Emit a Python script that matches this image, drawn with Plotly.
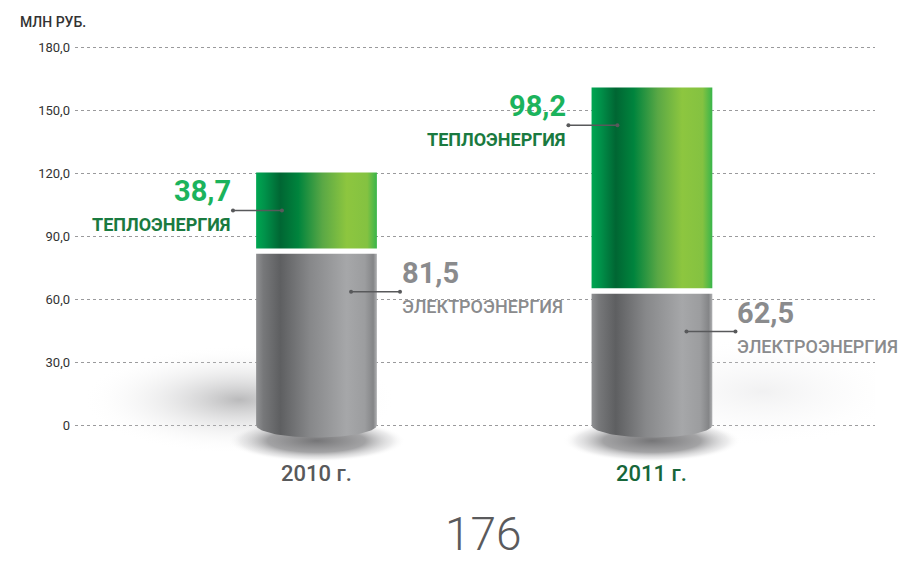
import numpy as np
import plotly.graph_objects as go

# Data: million roubles by year
years = ["2010 г.", "2011 г."]
electricity = [81.5, 62.5]   # ЭЛЕКТРОЭНЕРГИЯ
heat = [38.7, 98.2]          # ТЕПЛОЭНЕРГИЯ
y_ticks = [0, 30, 60, 90, 120, 150, 180]
y_tick_labels = ["0", "30,0", "60,0", "90,0", "120,0", "150,0", "180,0"]
page_number = "176"

# Styling constants
X_RANGE = [-0.72, 1.665]
Y_RANGE = [-21.43, 188.1]
HALF_W = 0.18          # half width of a cylinder (x units)
GAP = 2.6              # white gap between the two stacked parts (y units)
BASE_DEPTH = 6.0       # depth of the rounded cylinder bottom (y units)
LEAD_OUT = 0.069       # leader length outside the cylinder
LEAD_IN = 0.077        # leader length inside the cylinder
LEAD_DROP = 18         # leader position below the segment top

GREEN_NUM = "#1bb35c"
GREEN_TXT = "#1a7a40"
GRAY_NUM = "#8a8b8d"
GRAY_TXT = "#8a8b8d"
YEAR_COLORS = ["#58595b", "#17663a"]
FONT = "Roboto"

GRAY_SCALE = [
    [0.0, "#8f9092"], [0.06, "#77787a"], [0.2, "#5e5f61"], [0.45, "#87888a"],
    [0.75, "#a6a7a9"], [0.9, "#9c9d9f"], [0.97, "#848587"], [1.0, "#b0b1b3"],
]
GREEN_SCALE = [
    [0.0, "#00a651"], [0.07, "#00924a"], [0.2, "#006633"], [0.35, "#00843d"],
    [0.55, "#5aa845"], [0.75, "#8dc63f"], [0.92, "#84c241"], [1.0, "#39b54a"],
]


def fmt(v):
    return f"{v:.1f}".replace(".", ",")


fig = go.Figure()


def soft_blob(cx, cy, rx, ry, colorscale):
    fig.add_trace(go.Scatter(
        x=[cx - rx, cx + rx, cx + rx, cx - rx, cx - rx],
        y=[cy - ry, cy - ry, cy + ry, cy + ry, cy - ry],
        mode="lines", line=dict(width=0), fill="toself",
        fillgradient=dict(type="radial", colorscale=colorscale),
        hoverinfo="skip", showlegend=False,
    ))


def segment(xc, y0, y1, colorscale, rounded):
    xs = [xc - HALF_W, xc + HALF_W]
    ys = [y1, y1]
    if rounded:
        t = np.linspace(0, np.pi, 60)
        xs += list(xc + HALF_W * np.cos(t))
        ys += list(y0 - BASE_DEPTH * np.sin(t))
    else:
        xs += [xc + HALF_W, xc - HALF_W]
        ys += [y0, y0]
    xs.append(xs[0])
    ys.append(ys[0])
    fig.add_trace(go.Scatter(
        x=xs, y=ys, mode="lines", line=dict(width=0), fill="toself",
        fillgradient=dict(type="horizontal", colorscale=colorscale),
        hoverinfo="skip", showlegend=False,
    ))


def leader(x0, x1, y):
    fig.add_trace(go.Scatter(
        x=[x0, x1], y=[y, y], mode="lines+markers",
        line=dict(color="#58595b", width=1.5),
        marker=dict(size=4, color="#58595b"),
        hoverinfo="skip", showlegend=False,
    ))


# floor haze and shadows
haze = [
    dict(dx=-0.23, cy=12, rx=0.47, ry=26,
         cs=[[0, "rgba(140,140,142,0.6)"], [0.5, "rgba(195,195,197,0.28)"], [1, "rgba(255,255,255,0)"]]),
    dict(dx=0.33, cy=16, rx=0.42, ry=26,
         cs=[[0, "rgba(215,215,217,0.35)"], [0.6, "rgba(235,235,237,0.15)"], [1, "rgba(255,255,255,0)"]]),
]
for i, h in enumerate(haze):
    soft_blob(i + h["dx"], h["cy"], h["rx"], h["ry"], h["cs"])

for i in range(len(years)):
    soft_blob(i, -7.5, 0.265, 10,
              [[0, "rgba(110,110,112,0.95)"], [0.55, "rgba(140,140,142,0.8)"],
               [0.85, "rgba(200,200,202,0.35)"], [1, "rgba(255,255,255,0)"]])

# cylinders
for i in range(len(years)):
    e, h = electricity[i], heat[i]
    segment(i, 0, e, GRAY_SCALE, True)
    segment(i, e + GAP, e + h, GREEN_SCALE, False)

annotations = []
for i in range(len(years)):
    e, h = electricity[i], heat[i]
    left, right = i - HALF_W, i + HALF_W

    # heat label (left side)
    yh = e + h - LEAD_DROP
    xh = left - LEAD_OUT
    leader(xh, left + LEAD_IN, yh)
    annotations.append(dict(x=xh, y=yh, text=f"<b>{fmt(h)}</b>", showarrow=False,
                            xanchor="right", yanchor="bottom", yshift=0,
                            font=dict(family=FONT, size=29, color=GREEN_NUM, weight=700)))
    annotations.append(dict(x=xh, y=yh, text="ТЕПЛОЭНЕРГИЯ", showarrow=False,
                            xanchor="right", yanchor="top", yshift=-2,
                            font=dict(family=FONT, size=18, color=GREEN_TXT, weight=700)))

    # electricity label (right side)
    ye = e - LEAD_DROP
    xe = right + LEAD_OUT
    leader(right - LEAD_IN, xe, ye)
    annotations.append(dict(x=xe, y=ye, text=f"<b>{fmt(e)}</b>", showarrow=False,
                            xanchor="left", yanchor="bottom", yshift=0,
                            font=dict(family=FONT, size=29, color=GRAY_NUM, weight=700)))
    annotations.append(dict(x=xe, y=ye, text="ЭЛЕКТРОЭНЕРГИЯ", showarrow=False,
                            xanchor="left", yanchor="top", yshift=-2,
                            font=dict(family=FONT, size=18, color=GRAY_TXT, weight=500)))

    # year label
    annotations.append(dict(x=i, y=0, text=years[i], showarrow=False,
                            xanchor="center", yanchor="middle", yshift=-48,
                            font=dict(family=FONT, size=22, color=YEAR_COLORS[i], weight=500)))

annotations.append(dict(xref="paper", yref="paper", x=-0.071, y=1.018, text="МЛН РУБ.",
                        showarrow=False, xanchor="left", yanchor="middle",
                        font=dict(family=FONT, size=14, color="#333333", weight=500)))
annotations.append(dict(xref="paper", yref="paper", x=0.511, y=-0.145, text=page_number,
                        showarrow=False, xanchor="center", yanchor="middle",
                        font=dict(family=FONT, size=46, color="#5a5a5c", weight=300)))

fig.update_layout(
    width=904, height=562,
    margin=dict(l=75, r=29, t=30, b=92),
    paper_bgcolor="white", plot_bgcolor="white",
    showlegend=False,
    annotations=annotations,
    xaxis=dict(range=X_RANGE, visible=False, fixedrange=True),
    yaxis=dict(range=Y_RANGE, tickvals=y_ticks, ticktext=y_tick_labels,
               showgrid=True, gridcolor="#9a9a9c", griddash="dot", gridwidth=1,
               zeroline=False, showline=False, ticks="", ticklabelstandoff=4,
               tickfont=dict(family=FONT, size=13, color="#333333"), fixedrange=True),
)

fig.write_html("out.html")
